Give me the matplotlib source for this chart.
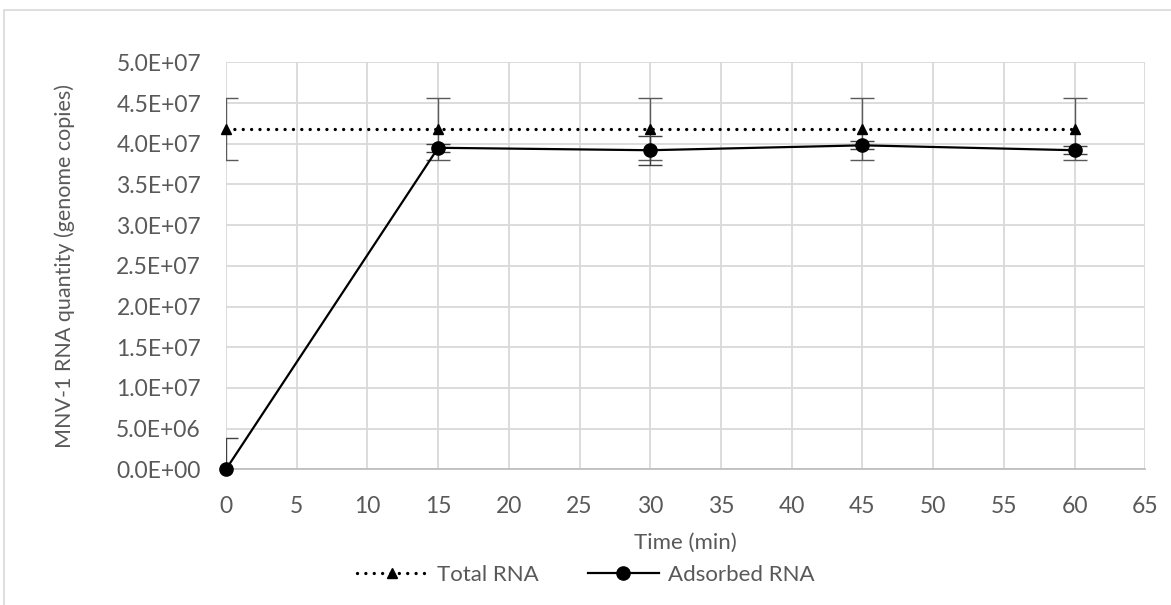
import numpy as np
import matplotlib
matplotlib.use("Agg")
import matplotlib.pyplot as plt
from matplotlib.patches import Rectangle
from matplotlib.ticker import MultipleLocator, FuncFormatter

time_min = [0, 15, 30, 45, 60]

total_rna = [4.18e7, 4.18e7, 4.18e7, 4.18e7, 4.18e7]
total_err = [3.8e6, 3.8e6, 3.8e6, 3.8e6, 3.8e6]

adsorbed_rna = [0.0, 3.95e7, 3.92e7, 3.98e7, 3.92e7]
adsorbed_err = [3.8e6, 0.5e6, 1.8e6, 0.5e6, 0.5e6]

TEXT = "#595959"
GRID = "#d9d9d9"

plt.rcParams["font.family"] = ["Lato", "DejaVu Sans"]

fig = plt.figure(figsize=(11.71, 6.05), dpi=100)
ax = fig.add_axes([0.193, 0.2243, 0.785, 0.6727])

# chart border like the spreadsheet frame
fig.patches.append(Rectangle((0.003, -0.01), 1.2, 0.994, transform=fig.transFigure,
                             fill=False, edgecolor=GRID, linewidth=1.2))

# total RNA
ax.errorbar(time_min, total_rna, yerr=total_err, fmt="none", ecolor="#595959",
            elinewidth=1.0, capsize=8.5, capthick=1.0, zorder=3)
ax.plot(time_min, total_rna, color="black", linewidth=2.4, linestyle=(0, (0.01, 2.5)),
        dash_capstyle="round", marker="^", markersize=6.5, clip_on=False, zorder=4,
        label="Total RNA")

# adsorbed RNA
ax.errorbar(time_min, adsorbed_rna, yerr=adsorbed_err, fmt="none", ecolor="#404040",
            elinewidth=1.0, capsize=8.5, capthick=1.0, zorder=3)
ax.plot(time_min, adsorbed_rna, color="black", linewidth=1.6, marker="o",
        markersize=9.5, clip_on=False, zorder=5, label="Adsorbed RNA")

ax.set_xlim(0, 65)
ax.set_ylim(0, 5e7)
ax.xaxis.set_major_locator(MultipleLocator(5))
ax.yaxis.set_major_locator(MultipleLocator(5e6))
ax.yaxis.set_major_formatter(FuncFormatter(lambda v, pos: f"{v:.1E}"))

ax.grid(True, color=GRID, linewidth=1.3, zorder=0)
ax.set_axisbelow(True)
for side in ["top", "right", "left"]:
    ax.spines[side].set_visible(False)
ax.spines["bottom"].set_color("#bfbfbf")
ax.spines["bottom"].set_linewidth(1.3)

ax.tick_params(axis="both", length=0, labelsize=16.5, labelcolor=TEXT)
ax.tick_params(axis="x", pad=19)
ax.tick_params(axis="y", pad=18)

ax.set_xlabel("Time (min)", fontsize=16, color=TEXT, labelpad=12)
ax.set_ylabel("MNV-1 RNA quantity (genome copies)", fontsize=15.5, color=TEXT, labelpad=30)

fig.legend(loc="center", bbox_to_anchor=(0.5, 0.05), ncol=2, frameon=False,
           fontsize=16, labelcolor=TEXT, handlelength=3.2, columnspacing=2.2,
           handletextpad=0.4)

fig.savefig("out.png", dpi=100)
